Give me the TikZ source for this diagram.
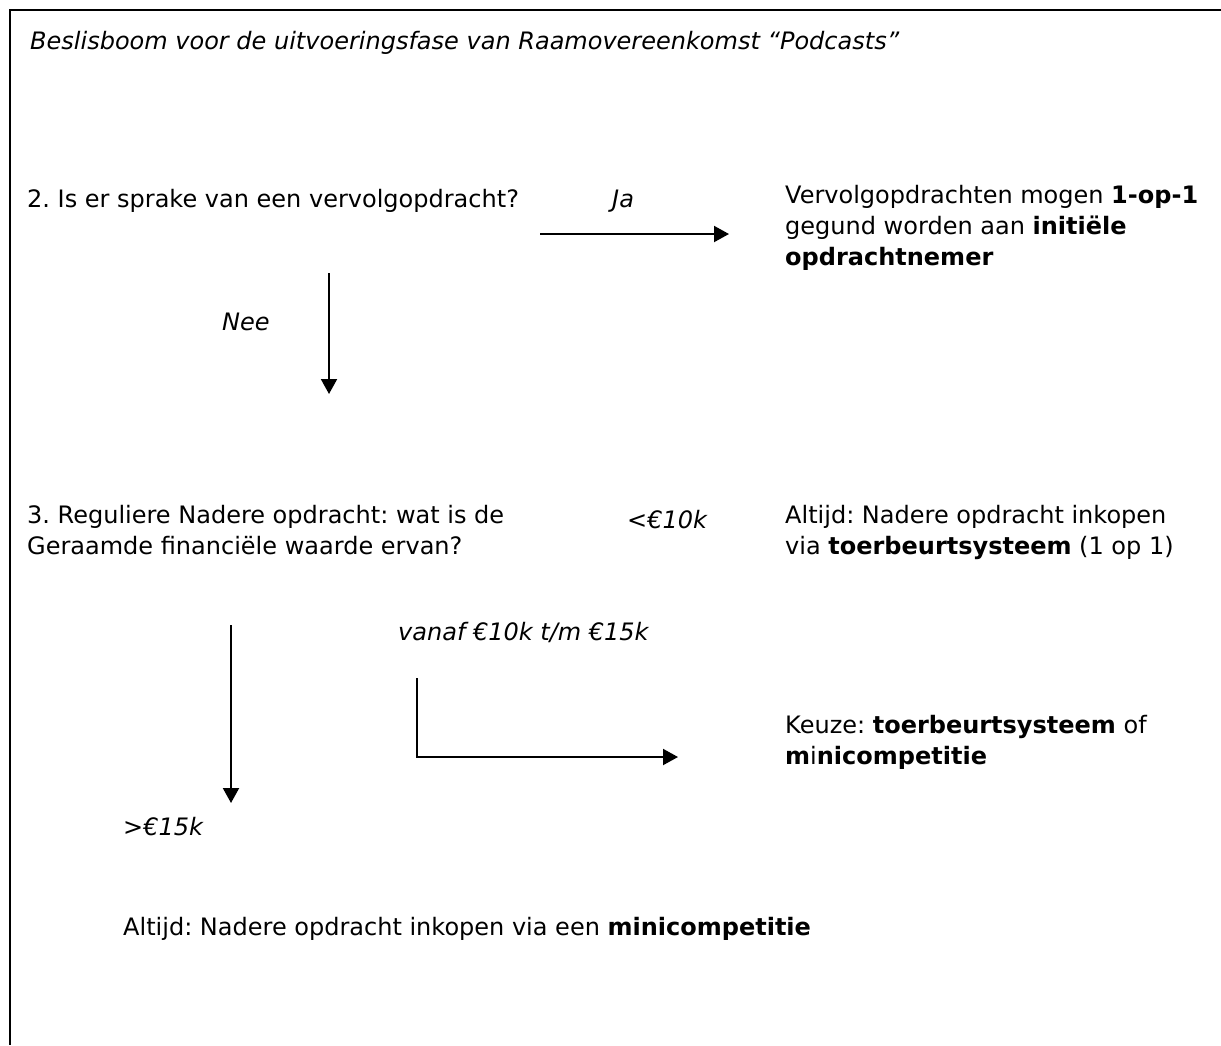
\documentclass[tikz,border=0pt]{standalone}
\usepackage{fontspec}
\setmainfont{DejaVu Sans}
\usetikzlibrary{arrows.meta}
\begin{document}
\frenchspacing
\begin{tikzpicture}[x=1pt,y=-1pt,
  txt/.style={anchor=base west,inner sep=0pt,font=\fontsize{24}{31}\selectfont},
  itx/.style={txt,font=\fontsize{24}{31}\selectfont\itshape},
  blk/.style={txt,align=left,anchor=north west},
  arr/.style={line width=2pt,-{Triangle[length=15pt,width=16pt]}},
  frame/.style={line width=2.2pt}]
\useasboundingbox (0,0) rectangle (1221,1045);
\fill[white] (0,0) rectangle (1221,1045);
\draw[frame] (1221,10) -- (10,10) -- (10,1045);
% title
\node[itx] (title) at (30,49) {Beslisboom voor de uitvoeringsfase van Raamovereenkomst “Podcasts”};
% question 2
\node[txt] (q2) at (27,207) {2. Is er sprake van een vervolgopdracht?};
\node[itx] (ja) at (612,207) {Ja};
\node[blk] (a2) at (785,185) {Vervolgopdrachten mogen \textbf{1-op-1}\\gegund worden aan \textbf{initiële}\\\textbf{opdrachtnemer}};
\node[itx] (nee) at (222,330) {Nee};
\coordinate (jaS) at (540,234);
\coordinate (jaE) at (729,234);
\draw[arr] (jaS) -- (jaE);
\coordinate (neeS) at (329,273);
\coordinate (neeE) at (329,394);
\draw[arr] (neeS) -- (neeE);
% question 3
\node[blk] (q3) at (27,505) {3. Reguliere Nadere opdracht: wat is de\\Geraamde financiële waarde ervan?};
\node[itx] (lt) at (627,528) {<€10k};
\node[blk] (a3) at (785,505) {Altijd: Nadere opdracht inkopen\\via \textbf{toerbeurtsysteem} (1 op 1)};
\node[itx] (mid) at (398,640) {vanaf €10k t/m €15k};
\node[blk] (a4) at (785,715) {Keuze: \textbf{toerbeurtsysteem} of\\\textbf{m}i\textbf{nicompetitie}};
\node[itx] (gt) at (123,835) {>€15k};
\node[txt] (a5) at (123,935) {Altijd: Nadere opdracht inkopen via een \textbf{minicompetitie}};
\coordinate (gtS) at (231,625);
\coordinate (gtE) at (231,803);
\draw[arr] (gtS) -- (gtE);
\coordinate (midS) at (417,678);
\coordinate (midE) at (678,757);
\draw[arr] (midS) |- (midE);
\end{tikzpicture}
\end{document}
